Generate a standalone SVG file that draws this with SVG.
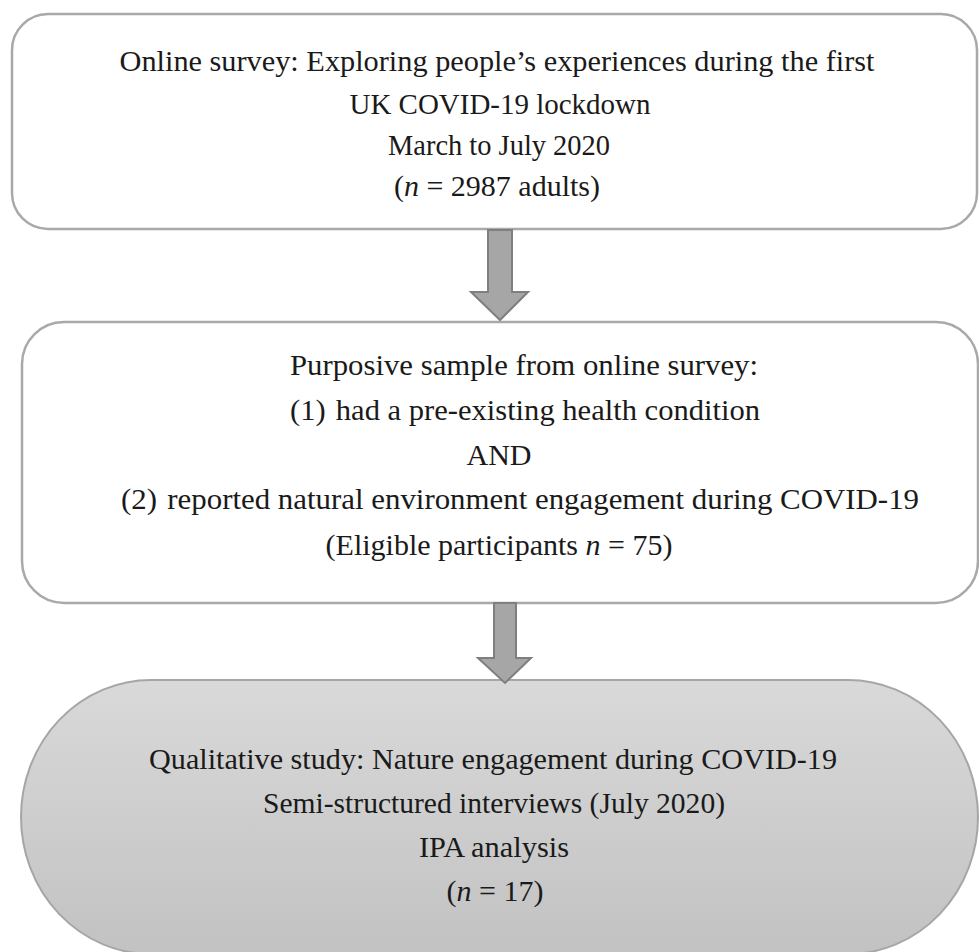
<svg xmlns="http://www.w3.org/2000/svg" width="979" height="952" viewBox="0 0 979 952">
<defs>
<linearGradient id="g3" x1="0" y1="0" x2="0" y2="1">
<stop offset="0" stop-color="#d9d9d9"/>
<stop offset="1" stop-color="#c2c2c2"/>
</linearGradient>
<style>
.box{fill:#ffffff;stroke:#a9a9a9;stroke-width:2.5}
.term{fill:url(#g3);stroke:#a6a6a6;stroke-width:2}
.arr{fill:#a6a6a6;stroke:#7f7f7f;stroke-width:2;stroke-linejoin:miter}
text{font-family:"Liberation Serif","DejaVu Serif",serif;font-size:30px;fill:#1a1a1a;text-anchor:middle}
.it{font-style:italic}
</style>
</defs>
<rect width="979" height="952" fill="#ffffff"/>
<g id="node-survey">
<rect class="box" x="12" y="14" width="965" height="215" rx="36" ry="36"/>
<text x="497" y="71" textLength="755" lengthAdjust="spacingAndGlyphs">Online survey: Exploring people’s experiences during the first</text>
<text x="500" y="114" textLength="301" lengthAdjust="spacingAndGlyphs">UK COVID-19 lockdown</text>
<text x="499" y="155" textLength="222" lengthAdjust="spacingAndGlyphs">March to July 2020</text>
<text x="497" y="196">(<tspan class="it">n</tspan> = 2987 adults)</text>
</g>
<g id="node-sample">
<rect class="box" x="22" y="322" width="956" height="281" rx="42" ry="42"/>
<text x="524" y="375" textLength="468" lengthAdjust="spacingAndGlyphs">Purposive sample from online survey:</text>
<text x="525" y="420" textLength="470" lengthAdjust="spacingAndGlyphs">(1)<tspan dx="10">had a pre-existing health condition</tspan></text>
<text x="499" y="465">AND</text>
<text x="520" y="509" textLength="798" lengthAdjust="spacingAndGlyphs">(2)<tspan dx="10">reported natural environment engagement during COVID-19</tspan></text>
<text x="499" y="555">(Eligible participants <tspan class="it">n</tspan> = 75)</text>
</g>
<g id="node-qualitative">
<rect class="term" x="21" y="680" width="957" height="274" rx="130" ry="137"/>
<text x="493" y="769" textLength="688" lengthAdjust="spacingAndGlyphs">Qualitative study: Nature engagement during COVID-19</text>
<text x="494" y="813" textLength="462" lengthAdjust="spacingAndGlyphs">Semi-structured interviews (July 2020)</text>
<text x="494" y="857" textLength="150" lengthAdjust="spacingAndGlyphs">IPA analysis</text>
<text x="495" y="901">(<tspan class="it">n</tspan> = 17)</text>
</g>
<g id="connectors">
<polygon class="arr" points="488,230 512,230 512,292 528,292 500,320 471,292 488,292"/>
<polygon class="arr" points="494,603 516,603 516,658 531,658 505,683 478,658 494,658"/>
</g>
</svg>
